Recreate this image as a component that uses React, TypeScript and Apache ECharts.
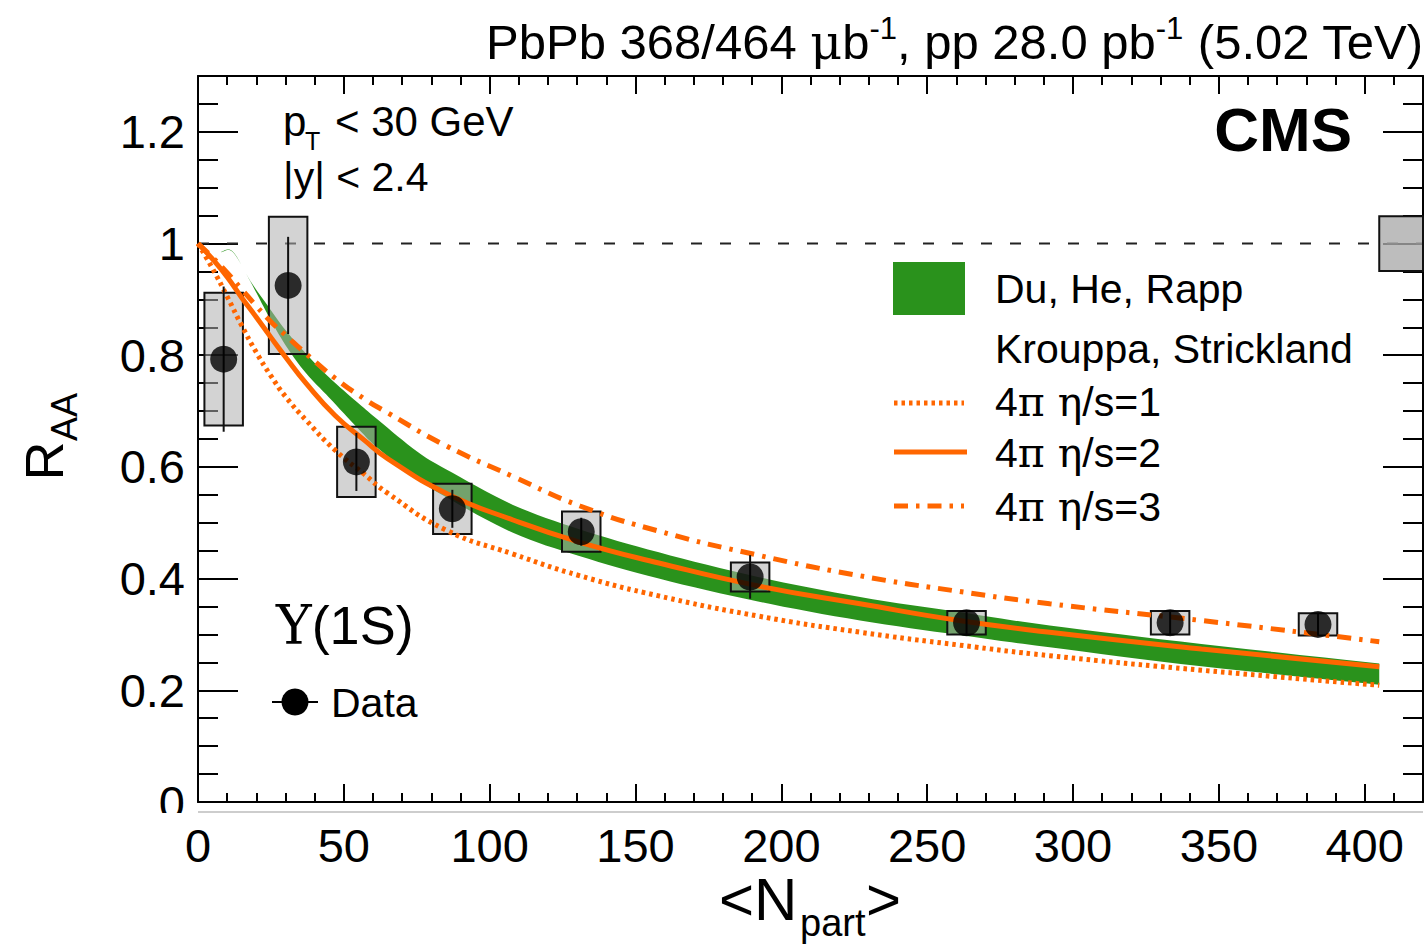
import React, { useEffect, useRef } from "react";
import * as echarts from "echarts";

// ---------------- data ----------------
const nPart = [8.8, 30.9, 54.3, 87.2, 131.4, 189.3, 263.5, 333.3, 384.0];
const rAA = [0.793, 0.925, 0.609, 0.525, 0.484, 0.403, 0.321, 0.321, 0.318];
const statErr = [0.13, 0.087, 0.052, 0.034, 0.025, 0.039, 0.02, 0.02, 0.02];
const systErr = [0.119, 0.123, 0.063, 0.045, 0.036, 0.026, 0.021, 0.021, 0.02];
const boxHalfWidth = 6.6;

const globalUnc = 0.049;
const globalBoxRange = [405, 420];

// Krouppa, Strickland curves
const ksN = [0, 5, 10, 15, 20, 25, 30, 37, 47, 57, 65, 85, 108, 131, 158, 192, 227, 261, 292, 344, 405];
const ksEta1 = [1.0, 0.955, 0.905, 0.853, 0.805, 0.763, 0.726, 0.684, 0.63, 0.587, 0.553, 0.487, 0.444, 0.405, 0.369, 0.333, 0.304, 0.281, 0.262, 0.236, 0.209];
const ksEta2 = [1.0, 0.972, 0.94, 0.903, 0.868, 0.832, 0.797, 0.75, 0.692, 0.648, 0.615, 0.553, 0.505, 0.465, 0.428, 0.387, 0.355, 0.325, 0.304, 0.274, 0.242];
const ksEta3 = [1.0, 0.975, 0.948, 0.918, 0.888, 0.86, 0.836, 0.803, 0.759, 0.722, 0.697, 0.638, 0.583, 0.53, 0.485, 0.442, 0.405, 0.377, 0.355, 0.325, 0.287];

// Du, He, Rapp band
const rappN = [8, 12, 18, 24, 30, 37, 45, 55, 62, 75, 85, 108, 131, 158, 192, 227, 261, 292, 344, 405];
const rappLow = [0.9845, 0.9845, 0.9315, 0.872, 0.818, 0.768, 0.724, 0.668, 0.632, 0.58, 0.546, 0.482, 0.44, 0.4, 0.359, 0.325, 0.299, 0.277, 0.243, 0.21];
const rappHigh = [0.9855, 0.9855, 0.9325, 0.888, 0.845, 0.803, 0.76, 0.714, 0.683, 0.628, 0.596, 0.532, 0.488, 0.447, 0.403, 0.367, 0.34, 0.316, 0.283, 0.248];

const xRange = [0, 420];
const yRange = [0, 1.3];
const refLevel = 1;

// ---------------- styles ----------------
const ORANGE = "#ff6600";
const GREEN = "#2a921c";
const SANS = "Liberation Sans, Arial, Helvetica, sans-serif";
const SERIF = "DejaVu Serif, Liberation Serif, serif";

const W = 1428;
const H = 948;
const GL = 198, GT = 76, GR = 1423, GB = 802;

// Catmull-Rom smoothing of pixel-space points (rendering only)
function splinePixels(pts: number[][], samples = 8): number[][] {
  const out: number[][] = [];
  const n = pts.length;
  for (let i = 0; i < n - 1; i++) {
    const p0 = pts[Math.max(i - 1, 0)];
    const p1 = pts[i];
    const p2 = pts[i + 1];
    const p3 = pts[Math.min(i + 2, n - 1)];
    for (let s = 0; s < samples; s++) {
      const t = s / samples;
      const t2 = t * t, t3 = t2 * t;
      const f = (a: number, b: number, c: number, d: number) =>
        0.5 * (2 * b + (-a + c) * t + (2 * a - 5 * b + 4 * c - d) * t2 + (-a + 3 * b - 3 * c + d) * t3);
      out.push([f(p0[0], p1[0], p2[0], p3[0]), f(p0[1], p1[1], p2[1], p3[1])]);
    }
  }
  out.push(pts[n - 1]);
  return out;
}

function xAxisDef(position: "bottom" | "top", interval: number, len: number, showLine: boolean, showLabel: boolean) {
  return {
    type: "value",
    position,
    min: xRange[0],
    max: xRange[1],
    interval,
    axisLine: { show: showLine, onZero: false, lineStyle: { color: "#000", width: 2 } },
    axisTick: { show: true, inside: true, length: len, lineStyle: { color: "#000", width: 2 } },
    axisLabel: {
      show: showLabel,
      showMaxLabel: false,
      fontSize: 47,
      color: "#000",
      fontFamily: SANS,
      margin: 20,
    },
    splitLine: { show: false },
  };
}

function yAxisDef(position: "left" | "right", interval: number, len: number, showLine: boolean, showLabel: boolean) {
  return {
    type: "value",
    position,
    min: yRange[0],
    max: yRange[1],
    interval,
    axisLine: { show: showLine, onZero: false, lineStyle: { color: "#000", width: 2 } },
    axisTick: { show: true, inside: true, length: len, lineStyle: { color: "#000", width: 2 } },
    axisLabel: {
      show: showLabel,
      showMaxLabel: false,
      fontSize: 47,
      color: "#000",
      fontFamily: SANS,
      margin: 13,
      formatter: (v: number) => String(Math.round(v * 10) / 10),
    },
    splitLine: { show: false },
  };
}

function buildOption() {
  const series: any[] = [
    {
      name: "ref",
      type: "line",
      data: [[xRange[0], refLevel], [xRange[1], refLevel]],
      symbol: "none",
      silent: true,
      z: 1,
      lineStyle: { color: "#222", width: 2, type: [11, 18] },
    },
    {
      name: "Du, He, Rapp",
      type: "custom",
      z: 2,
      silent: true,
      data: rappN.map((n, i) => [n, rappLow[i], rappHigh[i]]),
      encode: { x: 0, y: [1, 2] },
      renderItem: (params: any, api: any) => {
        if (params.dataIndex !== 0) return null;
        const upper = splinePixels(rappN.map((n, i) => api.coord([n, rappHigh[i]])));
        const lower = splinePixels(rappN.map((n, i) => api.coord([n, rappLow[i]])));
        return {
          type: "polygon",
          shape: { points: upper.concat(lower.slice().reverse()) },
          style: { fill: GREEN },
        };
      },
    },
    {
      name: "syst",
      type: "custom",
      z: 3,
      silent: true,
      data: nPart.map((n, i) => [n, rAA[i], systErr[i]]),
      encode: { x: 0, y: 1 },
      renderItem: (params: any, api: any) => {
        const x = api.value(0), y = api.value(1), s = api.value(2);
        const p1 = api.coord([x - boxHalfWidth, y + s]);
        const p2 = api.coord([x + boxHalfWidth, y - s]);
        return {
          type: "rect",
          shape: { x: p1[0], y: p1[1], width: p2[0] - p1[0], height: p2[1] - p1[1] },
          style: { fill: "rgba(175,175,175,0.55)", stroke: "#111", lineWidth: 2 },
        };
      },
    },
    {
      name: "global",
      type: "custom",
      z: 3,
      silent: true,
      data: [[globalBoxRange[0], globalBoxRange[1], refLevel, globalUnc]],
      encode: { x: 0, y: 2 },
      renderItem: (params: any, api: any) => {
        const x0 = api.value(0), x1 = api.value(1), y = api.value(2), u = api.value(3);
        const p1 = api.coord([x0, y + u]);
        const p2 = api.coord([x1, y - u]);
        return {
          type: "rect",
          shape: { x: p1[0], y: p1[1], width: p2[0] - p1[0], height: p2[1] - p1[1] },
          style: { fill: "rgba(170,170,170,0.78)", stroke: "#111", lineWidth: 2 },
        };
      },
    },
    {
      name: "4π η/s=1",
      type: "line",
      data: ksN.map((n, i) => [n, ksEta1[i]]),
      symbol: "none",
      smooth: true,
      silent: true,
      z: 4,
      lineStyle: { color: ORANGE, width: 5, type: [3.5, 4] },
    },
    {
      name: "4π η/s=2",
      type: "line",
      data: ksN.map((n, i) => [n, ksEta2[i]]),
      symbol: "none",
      smooth: true,
      silent: true,
      z: 4,
      lineStyle: { color: ORANGE, width: 5 },
    },
    {
      name: "4π η/s=3",
      type: "line",
      data: ksN.map((n, i) => [n, ksEta3[i]]),
      symbol: "none",
      smooth: true,
      silent: true,
      z: 4,
      lineStyle: { color: ORANGE, width: 5, type: [14, 8, 3.5, 8] },
    },
    {
      name: "stat",
      type: "custom",
      z: 5,
      silent: true,
      data: nPart.map((n, i) => [n, rAA[i], statErr[i]]),
      encode: { x: 0, y: 1 },
      renderItem: (params: any, api: any) => {
        const x = api.value(0), y = api.value(1), s = api.value(2);
        const p1 = api.coord([x, y + s]);
        const p2 = api.coord([x, y - s]);
        return {
          type: "line",
          shape: { x1: p1[0], y1: p1[1], x2: p2[0], y2: p2[1] },
          style: { stroke: "#111", lineWidth: 2 },
        };
      },
    },
    {
      name: "Data",
      type: "scatter",
      data: nPart.map((n, i) => [n, rAA[i]]),
      symbol: "circle",
      symbolSize: 27,
      silent: true,
      z: 6,
      itemStyle: { color: "#000" },
    },
  ];

  const txt = (x: number, y: number, text: string, fontSize: number, extra: any = {}) => ({
    type: "text",
    x,
    y,
    z: 20,
    silent: true,
    style: {
      text,
      fontSize,
      fontFamily: SANS,
      fill: "#000",
      align: "left",
      verticalAlign: "middle",
      ...extra,
    },
  });

  const rAATitle: any = txt(44, 461, "R", 54, { align: "center", lineHeight: 44 });
  rAATitle.rotation = Math.PI / 2;
  const rAASub: any = txt(64, 417, "AA", 36, { align: "center", lineHeight: 30 });
  rAASub.rotation = Math.PI / 2;

  const graphic: any[] = [
    // lower pad edge line
    {
      type: "line",
      z: 20,
      silent: true,
      shape: { x1: GL, y1: 812, x2: GR, y2: 812 },
      style: { stroke: "#bdbdbd", lineWidth: 1.5 },
    },
    {
      type: "rect",
      z: 21,
      silent: true,
      shape: { x: 140, y: 813, width: 50, height: 12 },
      style: { fill: "#fff" },
    },
    // top title
    {
      type: "text",
      x: 1423,
      y: 42,
      z: 20,
      silent: true,
      style: {
        text: "{a|PbPb 368/464 }{g|μ}{a|b}{s|-1}{a|, pp 28.0 pb}{s|-1}{a| (5.02 TeV)}",
        align: "right",
        verticalAlign: "middle",
        rich: {
          a: { fontSize: 49, fontFamily: SANS, fill: "#000", lineHeight: 58 },
          g: { fontSize: 49, fontFamily: SERIF, fill: "#000", lineHeight: 58 },
          s: { fontSize: 31, fontFamily: SANS, fill: "#000", lineHeight: 36, verticalAlign: "top" },
        },
      },
    },
    // CMS
    txt(1352, 129, "CMS", 62, { fontWeight: "bold", align: "right" }),
    // kinematic text
    txt(283, 121, "p", 42, { lineHeight: 36 }),
    txt(305, 141, "T", 25, { lineHeight: 20 }),
    txt(335, 121, "< 30 GeV", 42, { lineHeight: 36 }),
    txt(283, 177, "|y| < 2.4", 41, { lineHeight: 34 }),
    // Upsilon
    {
      type: "text",
      x: 276,
      y: 625,
      z: 20,
      silent: true,
      style: {
        text: "{g|Υ}{a|(1S)}",
        align: "left",
        verticalAlign: "middle",
        rich: {
          g: { fontSize: 54, fontFamily: SERIF, fill: "#000" },
          a: { fontSize: 54, fontFamily: SANS, fill: "#000" },
        },
      },
    },
    // Data legend
    {
      type: "line",
      z: 20,
      silent: true,
      shape: { x1: 272, y1: 702, x2: 318, y2: 702 },
      style: { stroke: "#000", lineWidth: 2 },
    },
    { type: "circle", z: 20, silent: true, shape: { cx: 295, cy: 702, r: 13.5 }, style: { fill: "#000" } },
    txt(331, 703, "Data", 41),
    // Theory legend
    { type: "rect", z: 20, silent: true, shape: { x: 893, y: 262, width: 72, height: 53 }, style: { fill: GREEN } },
    txt(995, 289, "Du, He, Rapp", 41),
    txt(995, 349, "Krouppa, Strickland", 41),
    {
      type: "line",
      z: 20,
      silent: true,
      shape: { x1: 894, y1: 403, x2: 964, y2: 403 },
      style: { stroke: ORANGE, lineWidth: 5, lineDash: [3.5, 4] },
    },
    {
      type: "line",
      z: 20,
      silent: true,
      shape: { x1: 894, y1: 452, x2: 967, y2: 452 },
      style: { stroke: ORANGE, lineWidth: 5 },
    },
    {
      type: "line",
      z: 20,
      silent: true,
      shape: { x1: 894, y1: 506, x2: 964, y2: 506 },
      style: { stroke: ORANGE, lineWidth: 5, lineDash: [14, 8, 3.5, 8] },
    },
    ...[
      ["1", 402],
      ["2", 453],
      ["3", 507],
    ].map(([k, y]) => ({
      type: "text",
      x: 995,
      y: y as number,
      z: 20,
      silent: true,
      style: {
        text: `{a|4}{g|π }{g|η}{a|/s=${k}}`,
        align: "left",
        verticalAlign: "middle",
        rich: {
          a: { fontSize: 41, fontFamily: SANS, fill: "#000" },
          g: { fontSize: 41, fontFamily: SERIF, fill: "#000" },
        },
      },
    })),
    // axis titles
    txt(719, 899, "<N", 60, { lineHeight: 48 }),
    txt(800, 923, "part", 38, { lineHeight: 34 }),
    txt(866, 899, ">", 60, { lineHeight: 48 }),
    rAATitle,
    rAASub,
  ];

  return {
    animation: false,
    backgroundColor: "#fff",
    grid: { left: GL, top: GT, right: W - GR, bottom: H - GB, containLabel: false },
    xAxis: [
      xAxisDef("bottom", 50, 18, true, true),
      xAxisDef("bottom", 10, 9, false, false),
      xAxisDef("top", 50, 18, true, false),
      xAxisDef("top", 10, 9, false, false),
    ],
    yAxis: [
      yAxisDef("left", 0.2, 40, true, true),
      yAxisDef("left", 0.05, 20, false, false),
      yAxisDef("right", 0.2, 40, true, false),
      yAxisDef("right", 0.05, 20, false, false),
    ],
    series,
    graphic: { elements: graphic },
  };
}

export default function App() {
  const ref = useRef<HTMLDivElement>(null);
  useEffect(() => {
    if (!ref.current) return;
    const chart = echarts.init(ref.current, undefined, { renderer: "svg", width: W, height: H });
    chart.setOption(buildOption() as any);
    return () => chart.dispose();
  }, []);
  return (
    <div
      ref={ref}
      style={{ position: "fixed", left: 0, top: 0, width: W, height: H, background: "#fff" }}
    />
  );
}
